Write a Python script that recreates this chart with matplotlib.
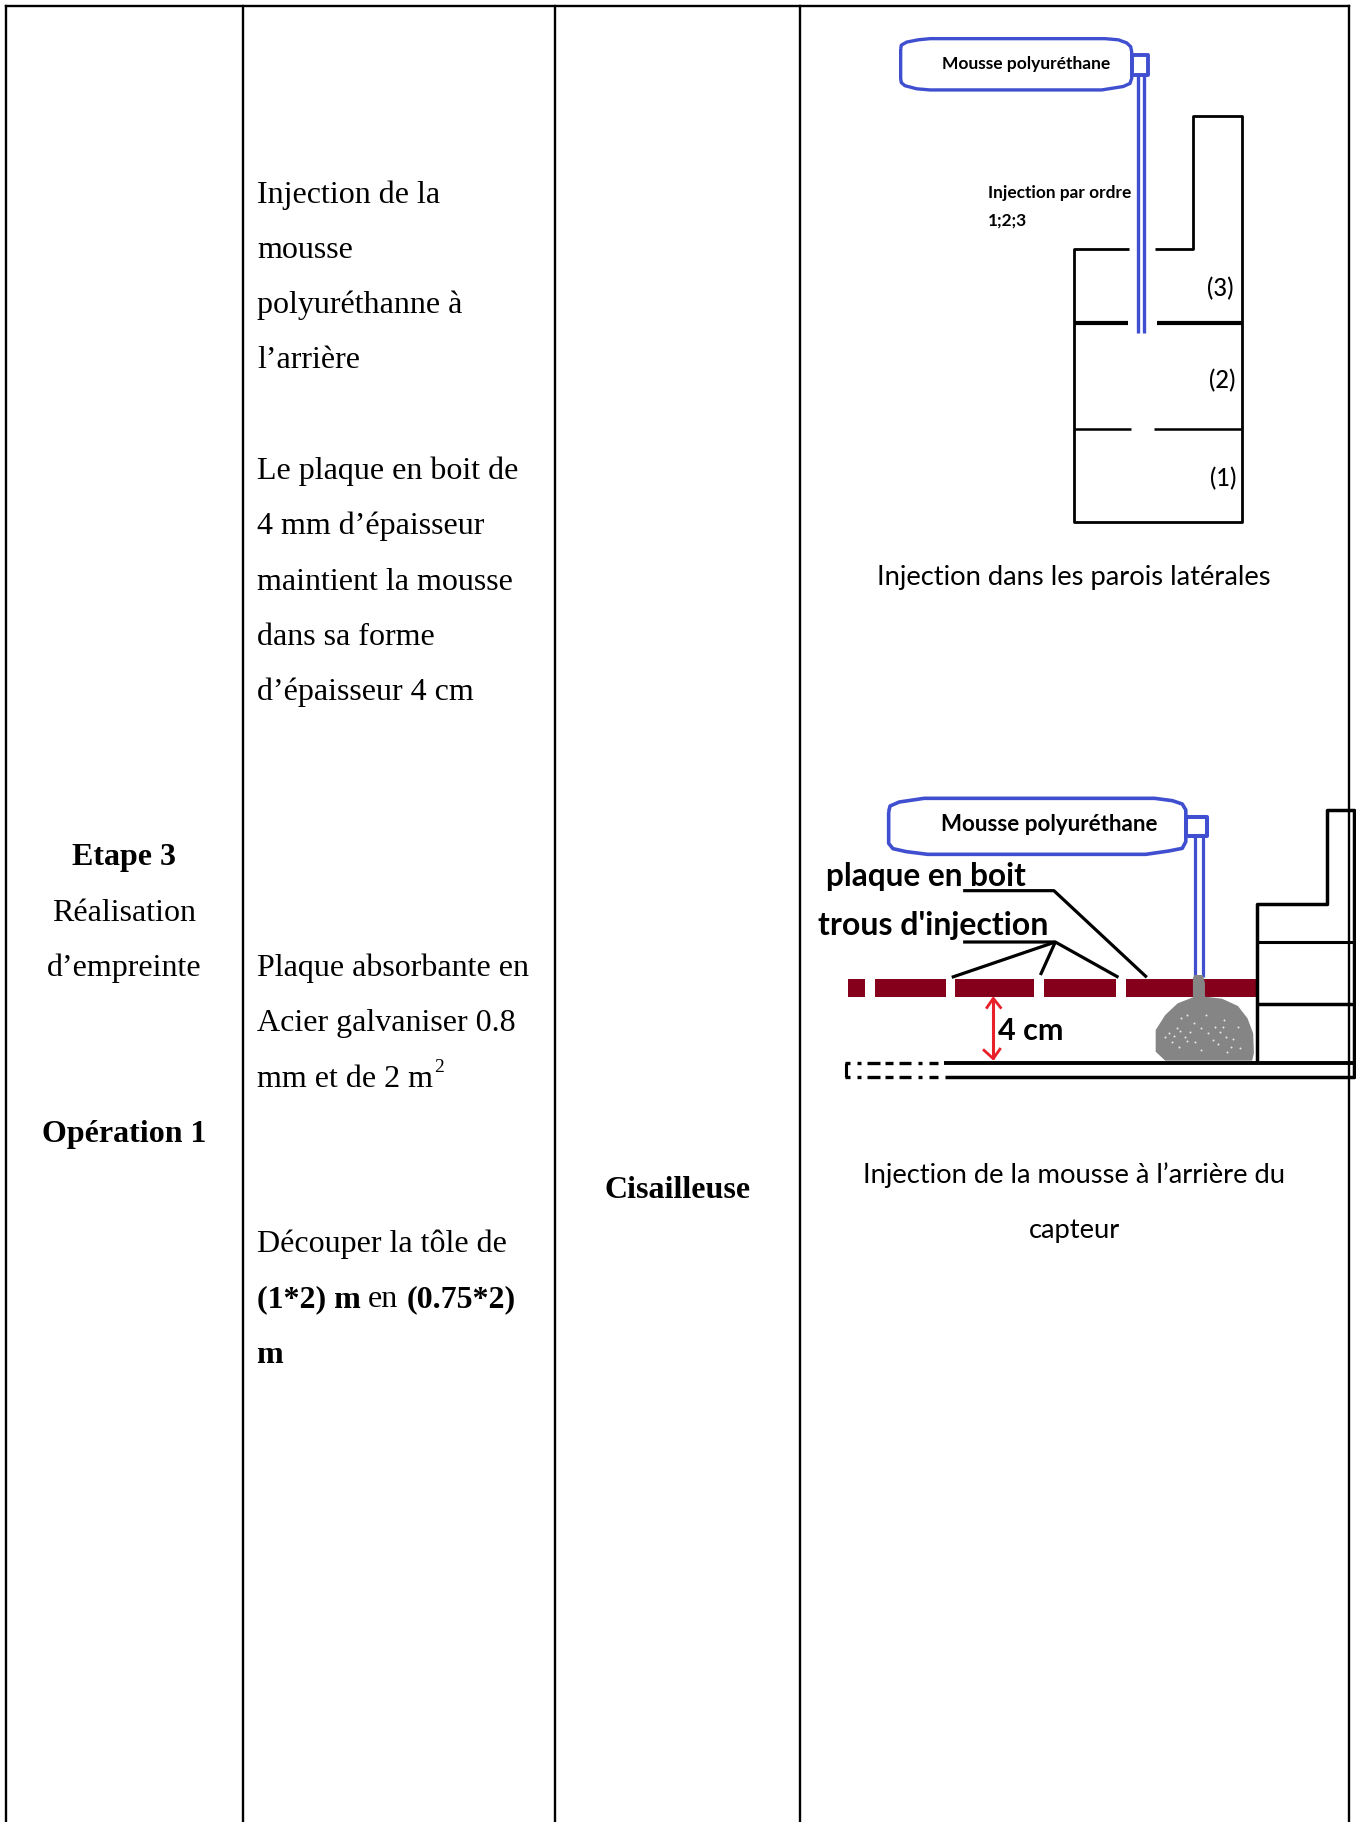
import matplotlib
matplotlib.use("Agg")
import matplotlib.pyplot as plt
from matplotlib.patches import Polygon

W, H = 1356, 1822
SERIF = "Liberation Serif"
SANS = "Lato"

column_edges = [6, 243, 555, 800, 1349]
col1 = [("Etape 3", 865, True), ("Réalisation", 921, False), ("d’empreinte", 976, False), ("Opération 1", 1142, True)]
col2 = [("Injection de la", 203), ("mousse", 258), ("polyuréthanne à", 313), ("l’arrière", 368),
        ("Le plaque en boit de", 479), ("4 mm d’épaisseur", 534), ("maintient la mousse", 590),
        ("dans sa forme", 645), ("d’épaisseur 4 cm", 700),
        ("Plaque absorbante en", 976), ("Acier galvaniser 0.8", 1031), ("mm et de 2 m", 1087),
        ("Découper la tôle de", 1252)]
mixed = [("(1*2) m", 257, 1307, True), ("en", 368, 1307, False), ("(0.75*2)", 407, 1307, True), ("m", 256, 1363, True)]

BLUE = "#3f4fd0"
DARKRED = "#85001a"
RED = "#e8202a"
GREY = "#858585"

fig = plt.figure(figsize=(W / 100, H / 100), dpi=100, facecolor="white")
ax = fig.add_axes([0, 0, 1, 1])
ax.set_xlim(0, W)
ax.set_ylim(H, 0)
ax.axis("off")

# table frame
ax.plot([column_edges[0], column_edges[-1]], [6, 6], color="black", lw=1.7, solid_capstyle="projecting")
for x in column_edges:
    ax.plot([x, x], [6, H], color="black", lw=1.7)

FS = 23
for s, y, b in col1:
    ax.text(124, y, s, family=SERIF, fontsize=FS, ha="center", va="baseline", weight="bold" if b else "normal")
for s, y in col2:
    ax.text(257, y, s, family=SERIF, fontsize=FS, va="baseline")
for s, x, y, b in mixed:
    ax.text(x, y, s, family=SERIF, fontsize=FS, va="baseline", weight="bold" if b else "normal")
ax.text(434, 1072, "2", family=SERIF, fontsize=14, va="baseline")
ax.text(678, 1198, "Cisailleuse", family=SERIF, fontsize=FS, ha="center", va="baseline", weight="bold")

# captions
CAP = 19.7
ax.text(1074, 585, "Injection dans les parois latérales", family=SANS, fontsize=CAP, ha="center", va="baseline")
ax.text(1074, 1183, "Injection de la mousse à l’arrière du", family=SANS, fontsize=CAP, ha="center", va="baseline")
ax.text(1074, 1238, "capteur", family=SANS, fontsize=CAP, ha="center", va="baseline")

def z1(p):
    return [(860 + x / 3, y / 2.613) for x, y in p]

def z2(p):
    return [(800 + x / 2.82, 770 + y / 3) for x, y in p]

def line(p, color="black", lw=1.5, cap="butt"):
    xs, ys = zip(*p)
    ax.plot(xs, ys, color=color, lw=lw, solid_capstyle=cap, solid_joinstyle="round")

# --- upper diagram ---
tank1 = [(122, 128), (124, 118), (140, 110), (175, 104), (210, 101), (735, 101), (775, 104), (800, 112), (812, 122),
         (815, 135), (815, 205), (810, 218), (790, 226), (725, 235), (210, 235), (170, 232), (135, 224), (124, 216),
         (122, 205), (122, 128)]
line(z1(tank1), BLUE, 2.4)
line(z1([(815, 145), (863, 145), (863, 195), (815, 195), (815, 145)]), BLUE, 2.8)
line(z1([(835, 195), (835, 870)]), BLUE, 2.4)
line(z1([(851, 195), (851, 870)]), BLUE, 2.4)

for seg, lw in [([(808, 651), (642, 651), (642, 1364), (1145, 1364), (1145, 302), (1000, 302), (1000, 651), (886, 651)], 2.0),
                ([(642, 845), (804, 845)], 3.0), ([(890, 845), (1145, 845)], 3.0),
                ([(642, 1121), (812, 1121)], 1.8), ([(882, 1121), (1145, 1121)], 1.8)]:
    line(z1(seg), "black", lw)

ax.text(*z1([(245, 181)])[0], "Mousse polyuréthane", family=SANS, fontsize=12.5, weight="bold", va="baseline")
ax.text(*z1([(385, 517)])[0], "Injection par ordre", family=SANS, fontsize=12.4, weight="bold", va="baseline")
ax.text(*z1([(385, 588)])[0], "1;2;3", family=SANS, fontsize=12.4, weight="bold", va="baseline")
for s, x, y in [("(3)", 1042, 775), ("(2)", 1046, 1015), ("(1)", 1050, 1271)]:
    ax.text(*z1([(x, y)])[0], s, family=SANS, fontsize=17, va="baseline", weight="medium")

# --- lower diagram ---
tank2 = [(250, 125), (254, 108), (280, 96), (350, 85), (1000, 85), (1050, 92), (1078, 102), (1088, 120), (1088, 215),
         (1078, 235), (1040, 243), (975, 253), (360, 253), (300, 245), (262, 236), (250, 220), (250, 125)]
line(z2(tank2), BLUE, 2.6)
line(z2([(1088, 142), (1148, 142), (1148, 198), (1088, 198), (1088, 142)]), BLUE, 2.9)
line(z2([(1115, 198), (1115, 620)]), BLUE, 2.3)
line(z2([(1136, 198), (1136, 620)]), BLUE, 2.3)

plate_segments = [(134, 183), (212, 413), (438, 659), (687, 890), (919, 1285)]
for x0, x1 in plate_segments:
    ax.add_patch(Polygon(z2([(x0, 628), (x1, 628), (x1, 680), (x0, 680)]), closed=True, fc=DARKRED, ec="none"))

blob = [(1108, 625), (1112, 615), (1136, 615), (1142, 640), (1142, 680), (1190, 686), (1235, 708), (1262, 745),
        (1278, 790), (1280, 850), (1275, 872), (1030, 872), (1003, 845), (1003, 780), (1030, 735), (1065, 700), (1108, 682)]
ax.add_patch(Polygon(z2(blob), closed=True, fc=GREY, ec="none", zorder=3))
speckle = [(1040, 790), (1062, 775), (1075, 745), (1085, 800), (1100, 785), (1115, 815), (1130, 775), (1150, 790),
           (1165, 810), (1185, 785), (1200, 800), (1215, 830), (1195, 750), (1050, 815), (1070, 830), (1110, 760),
           (1145, 735), (1235, 770), (1240, 835), (1130, 840), (1170, 770), (1090, 735), (1205, 845), (1030, 800),
           (1056, 798), (1072, 782), (1092, 812), (1178, 822), (1192, 772), (1222, 808)]
sx, sy = zip(*z2(speckle))
ax.scatter(sx, sy, s=2.0, color="#e8e8e8", linewidths=0, zorder=4)

# chair outline
line(z2([(1290, 875), (1290, 403), (1487, 403), (1487, 120), (1562, 120), (1562, 920), (410, 920)]), "black", 2.5)
line(z2([(1290, 517), (1560, 517)]), "black", 2.2)
line(z2([(1290, 702), (1560, 702)]), "black", 2.5)
line(z2([(405, 879), (1560, 879)]), "black", 2.8)
for x0, x1 in [(128, 140), (160, 172), (190, 225), (240, 262), (280, 312), (332, 345), (365, 388)]:
    line(z2([(x0, 879), (x1, 879)]), "black", 2.4)
    line(z2([(x0, 920), (x1, 920)]), "black", 2.4)
line(z2([(131, 879), (131, 920)]), "black", 2.2)

# leader lines
line(z2([(460, 362), (716, 362), (978, 622)]), "black", 2.3)
line(z2([(460, 516), (720, 516), (898, 622)]), "black", 2.3)
line(z2([(720, 516), (428, 622)]), "black", 2.3)
line(z2([(720, 516), (678, 615)]), "black", 2.3)

ax.text(*z2([(72, 349)])[0], "plaque en boit", family=SANS, fontsize=22.8, weight="bold", va="baseline")
ax.text(*z2([(52, 495)])[0], "trous d'injection", family=SANS, fontsize=23, weight="bold", va="baseline")
ax.text(*z2([(558, 810)])[0], "4 cm", family=SANS, fontsize=22, weight="bold", va="baseline")
ax.text(*z2([(398, 183)])[0], "Mousse polyuréthane", family=SANS, fontsize=16.1, weight="bold", va="baseline")

# 4 cm arrow
line(z2([(545, 685), (545, 866)]), RED, 2.2)
line(z2([(525, 716), (545, 685), (568, 716)]), RED, 2)
line(z2([(516, 838), (545, 866), (566, 834)]), RED, 2)

fig.savefig("out.png", dpi=100, facecolor="white")
